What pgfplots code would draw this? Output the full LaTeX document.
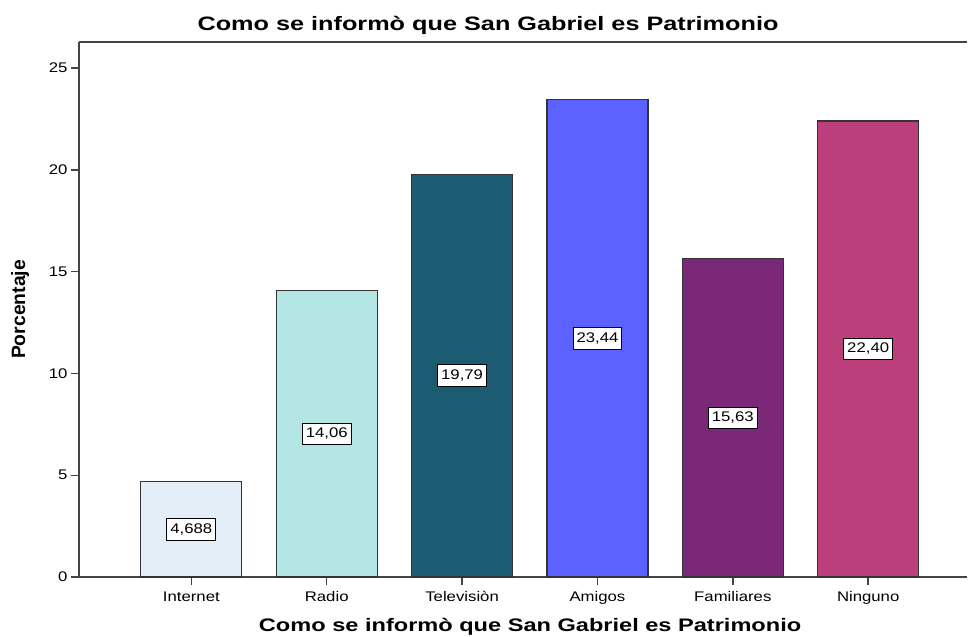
\documentclass[border=0pt]{standalone}
\usepackage{pgfplots}
\usepackage{pgfplotstable}
\pgfplotsset{compat=1.18}
\usepackage{fontspec}
\setmainfont{Liberation Sans}[FakeStretch=1.2]
\newfontfamily\widefont{Liberation Sans}[FakeStretch=1.3]
\newfontfamily\plainfont{Liberation Sans}
\definecolor{c1}{HTML}{E3EEF9}
\definecolor{c2}{HTML}{B4E6E6}
\definecolor{c3}{HTML}{1C5C73}
\definecolor{c4}{HTML}{5B62FF}
\definecolor{c5}{HTML}{7C2879}
\definecolor{c6}{HTML}{BA3F7A}
\definecolor{axisgray}{HTML}{444444}
\definecolor{bargray}{HTML}{333333}
\pgfplotstableread{
x v lab
0 4.688 4,688
1 14.06 14,06
2 19.79 19,79
3 23.44 23,44
4 15.63 15,63
5 22.40 22,40
}\datatab
\begin{document}
\begin{tikzpicture}
\useasboundingbox (-79bp,-60bp) rectangle (889bp,577bp);
\begin{axis}[
  at={(0bp,0bp)}, anchor=south west,
  scale only axis, width=888bp, height=535bp,
  xmin=-0.83, xmax=5.73, ymin=0, ymax=26.28,
  axis x line=box, axis y line=left,
  axis line style={-, draw=axisgray, line width=1.4bp},
  xtick={0,...,5},
  xticklabels={Internet,Radio,Televisiòn,Amigos,Familiares,Ninguno},
  ytick={0,5,...,25},
  tick align=outside, xtick pos=bottom, ytick pos=left,
  major tick length=8bp,
  tick style={draw=axisgray, line width=1.4bp},
  ticklabel style={font=\fontsize{14}{16}\selectfont},
  xticklabel style={yshift=-3bp},
  /pgf/number format/assume math mode=true,
  every axis title shift=0pt,
  title={Como se informò que San Gabriel es Patrimonio},
  title style={at={(axis description cs:0.4606,1.0318)}, anchor=center, font=\widefont\bfseries\fontsize{19.5}{22}\selectfont},
  xlabel={Como se informò que San Gabriel es Patrimonio},
  xlabel style={at={(axis description cs:0.508,-0.0935)}, anchor=center, font=\widefont\bfseries\fontsize{18.2}{21}\selectfont},
  ylabel={Porcentaje},
  ylabel style={at={(axis description cs:-0.0664,0.5)}, anchor=center, font=\plainfont\bfseries\fontsize{19.4}{22}\selectfont},
  ybar, bar width=101bp,
]
\addplot[bar shift=0pt, fill=c1, draw=bargray, line width=1.2bp] coordinates {(0,4.688)};
\addplot[bar shift=0pt, fill=c2, draw=bargray, line width=1.2bp] coordinates {(1,14.06)};
\addplot[bar shift=0pt, fill=c3, draw=bargray, line width=1.2bp] coordinates {(2,19.79)};
\addplot[bar shift=0pt, fill=c4, draw=bargray, line width=1.2bp] coordinates {(3,23.44)};
\addplot[bar shift=0pt, fill=c5, draw=bargray, line width=1.2bp] coordinates {(4,15.63)};
\addplot[bar shift=0pt, fill=c6, draw=bargray, line width=1.2bp] coordinates {(5,22.40)};
\addplot[bar shift=0pt, draw=none, fill=none,
  nodes near coords, point meta=explicit symbolic,
  nodes near coords style={anchor=center, fill=white, draw=black, line width=1bp,
    inner xsep=3.5bp, inner ysep=5bp, font=\fontsize{14}{16}\selectfont}]
  table[x=x, y expr=\thisrow{v}/2, meta=lab] {\datatab};
\end{axis}
\end{tikzpicture}
\end{document}
